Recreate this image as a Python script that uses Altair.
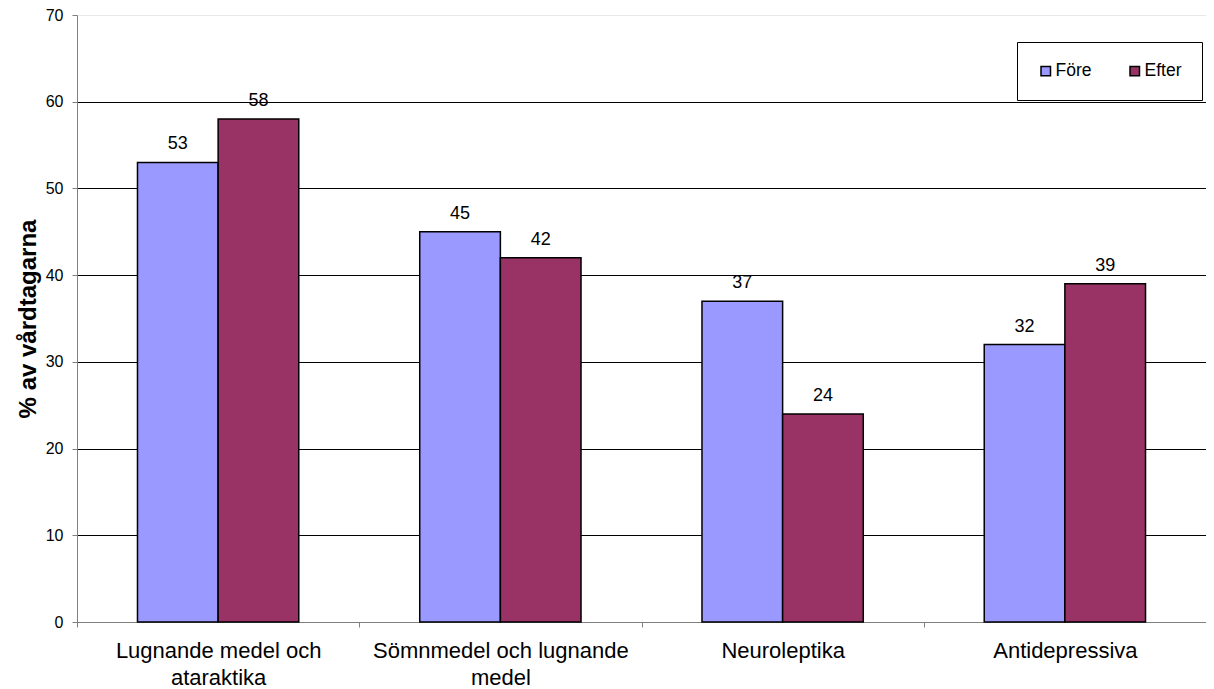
import altair as alt
import pandas as pd

categories = ["Lugnande medel och ataraktika", "Sömnmedel och lugnande medel", "Neuroleptika", "Antidepressiva"]
label_lines = [["Lugnande medel och", "ataraktika"], ["Sömnmedel och lugnande", "medel"], ["Neuroleptika"], ["Antidepressiva"]]
series = ["Före", "Efter"]
fore = [53, 45, 37, 32]
efter = [58, 42, 24, 39]
colors = ["#9999FF", "#993366"]

rows = []
for c, a, b in zip(categories, fore, efter):
    rows.append({"kategori": c, "tid": "Före", "varde": a})
    rows.append({"kategori": c, "tid": "Efter", "varde": b})
df = pd.DataFrame(rows)

expr_parts = []
for c, lines in zip(categories, label_lines):
    arr = "[" + ",".join("'" + l + "'" for l in lines) + "]"
    expr_parts.append(f"datum.value == '{c}' ? {arr} : ")
label_expr = "".join(expr_parts) + "datum.label"

FONT = "Liberation Sans"

x = alt.X("kategori:N", sort=categories, title=None,
          scale=alt.Scale(paddingInner=0, paddingOuter=0),
          axis=alt.Axis(labelAngle=0, labelFontSize=22, labelFont=FONT, labelColor="black",
                        tickBand="extent", tickSize=5, tickColor="#808080",
                        domainColor="#808080", labelPadding=13, labelLineHeight=27,
                        labelBaseline="top", labelExpr=label_expr, labelLimit=400))
xo = alt.XOffset("tid:N", sort=series,
                 scale=alt.Scale(paddingInner=0, paddingOuter=0.75))
y = alt.Y("varde:Q", title="% av vårdtagarna",
          scale=alt.Scale(domain=[0, 70], nice=False),
          axis=alt.Axis(values=[0, 10, 20, 30, 40, 50, 60, 70], labelFontSize=16, labelFont=FONT,
                        labelColor="black", tickSize=5, tickColor="#808080", domainColor="#808080",
                        labelPadding=9, titleFont=FONT, titleFontSize=24, titleFontWeight="bold",
                        titleColor="black", titlePadding=5,
                        gridColor={"condition": {"test": "datum.value == 70", "value": "#e8e8e8"},
                                   "value": "black"},
                        grid=True))

bars = alt.Chart(df).mark_bar(stroke="black", strokeWidth=1.5).encode(
    x=x, xOffset=xo, y=y,
    color=alt.Color("tid:N", sort=series, scale=alt.Scale(domain=series, range=colors),
                    legend=alt.Legend(title=None, orient="none", legendX=940, legendY=27,
                                      direction="horizontal", symbolType="square", symbolSize=90,
                                      symbolStrokeColor="black", symbolStrokeWidth=1.5,
                                      labelFont=FONT, labelFontSize=17.5, labelColor="black",
                                      strokeColor="black", fillColor="white", padding=20,
                                      columnPadding=34, symbolOffset=0, labelOffset=1)),
)

text = alt.Chart(df).mark_text(baseline="alphabetic", dy=-13, fontSize=18, font=FONT, color="black").encode(
    x=x, xOffset=xo, y=y, text="varde:Q"
)

chart = (bars + text).properties(
    width=1129, height=607,
    autosize=alt.AutoSizeParams(type="none"),
    padding={"left": 69, "top": 7, "right": 0, "bottom": 67},
).configure_view(stroke=None).configure_axisY(gridWidth=1)

chart.save("out.html", embed_options={"renderer": "svg", "actions": False})
